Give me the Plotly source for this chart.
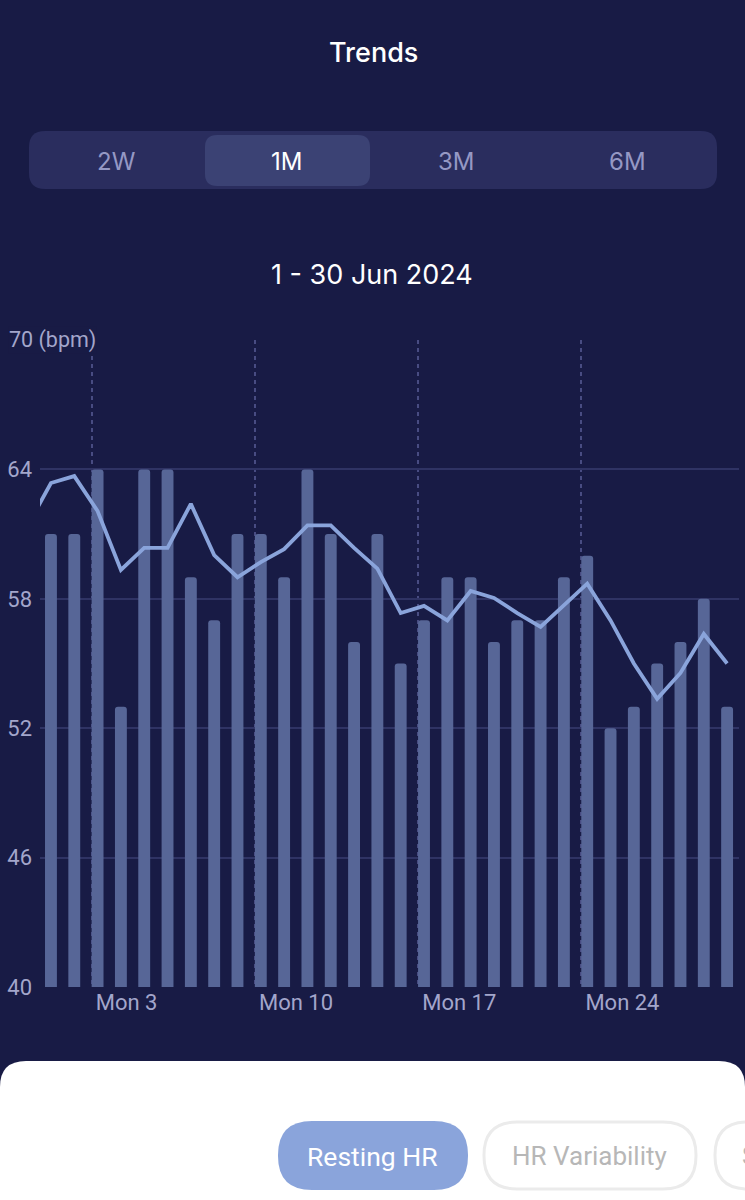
import plotly.graph_objects as go

W = 745
H = 1200

BG = "#181B45"
GRID = "#2F3364"
DASH = "#484C82"
LABEL = "#A3A6CB"
BLUE = "#8AA4DB"
BAR = "#576697"

DAYS = list(range(1, 31))
RESTING_BARS = [61, 61, 64, 53, 64, 64, 59, 57, 61, 61, 59, 64, 61, 56, 61,
                55, 57, 59, 59, 56, 57, 57, 59, 60, 52, 53, 55, 56, 58, 53]

# la linea arranca un dia antes, el eje la recorta
TREND_DAYS = list(range(0, 31))
TREND = [61.4, 63.37, 63.69, 62.07, 59.34, 60.36, 60.36, 62.4, 60.03, 59.0, 59.7,
         60.3, 61.4, 61.4, 60.36, 59.4, 57.34, 57.67, 57.0, 58.36, 58.04,
         57.34, 56.7, 57.7, 58.7, 57.0, 55.0, 53.36, 54.56, 56.37, 55.0]

Y_TICKS = [40, 46, 52, 58, 64, 70]
Y_LABELS = ["40", "46", "52", "58", "64", ""]
MONDAYS = [2.75, 9.75, 16.75, 23.75]
MONDAY_LABELS = ["Mon 3", "Mon 10", "Mon 17", "Mon 24"]

TABS = ["2W", "1M", "3M", "6M"]
TAB_CENTERS = [116, 286, 456, 627]


def px(x):
    return x / W


def py(y):
    return 1 - y / H


def round_rect(x0, y0, x1, y1, r, fill, line=None):
    # rectangulo redondeado en pixeles de la pagina
    path = (
        f"M {px(x0 + r)} {py(y0)} L {px(x1 - r)} {py(y0)} "
        f"Q {px(x1)} {py(y0)} {px(x1)} {py(y0 + r)} "
        f"L {px(x1)} {py(y1 - r)} Q {px(x1)} {py(y1)} {px(x1 - r)} {py(y1)} "
        f"L {px(x0 + r)} {py(y1)} Q {px(x0)} {py(y1)} {px(x0)} {py(y1 - r)} "
        f"L {px(x0)} {py(y0 + r)} Q {px(x0)} {py(y0)} {px(x0 + r)} {py(y0)} Z"
    )
    return dict(
        type="path",
        xref="paper",
        yref="paper",
        path=path,
        fillcolor=fill,
        line=dict(color=line or fill, width=3 if line else 0),
        layer="below",
    )


def label(x, y, text, size, color, family="Inter", anchor="center", weight=400, bg=None):
    return dict(
        x=px(x),
        y=py(y),
        xref="paper",
        yref="paper",
        xanchor=anchor,
        yanchor="middle",
        text=text,
        showarrow=False,
        bgcolor=bg,
        borderpad=0,
        font=dict(family=family, size=size, color=color, weight=weight),
    )


fig = go.Figure()

fig.add_trace(
    go.Bar(
        x=DAYS,
        y=RESTING_BARS,
        width=0.51,
        marker=dict(color=BAR, line_width=0, cornerradius=3),
    )
)

fig.add_trace(
    go.Scatter(
        x=TREND_DAYS,
        y=TREND,
        mode="lines",
        line=dict(color=BLUE, width=3.8),
    )
)

fig.update_xaxes(
    automargin=False,
    domain=[px(40), px(739)],
    range=[0.53, 30.51],
    tickvals=MONDAYS,
    ticktext=MONDAY_LABELS,
    ticklabelposition="outside right",
    ticklabelshift=4,
    ticks="",
    showgrid=True,
    gridcolor=DASH,
    griddash="4px,4px",
    gridwidth=2,
    zeroline=False,
    showline=False,
    tickfont=dict(family="Roboto", size=22, color=LABEL),
)

fig.update_yaxes(
    automargin=False,
    domain=[py(987), py(340)],
    range=[40, 70],
    tickvals=Y_TICKS,
    ticktext=Y_LABELS,
    ticklabelstandoff=7,
    ticks="",
    showgrid=True,
    gridcolor=GRID,
    gridwidth=2,
    zeroline=False,
    showline=False,
    tickfont=dict(family="Roboto", size=22, color=LABEL),
)

shapes = [
    round_rect(29, 131, 717, 189, 16, "#2A2D5E"),
    round_rect(205, 135, 370, 186, 12, "#3B4274"),
]

annotations = [
    label(373, 52, "Trends", 27, "#FFFFFF", weight=500),
    label(372, 275, "1 - 30 Jun 2024", 27, "#FFFFFF"),
    label(8, 340, "70 (bpm)", 21.5, LABEL, family="Roboto", anchor="left", bg=BG),
]

for name, cx in zip(TABS, TAB_CENTERS):
    annotations.append(
        label(cx, 161, name, 24, "#FFFFFF" if name == "1M" else "#9598C4")
    )

# panel blanco inferior con los botones
panel = [
    round_rect(0, 1061, W, 1240, 26, "#FFFFFF"),
    round_rect(278, 1121, 468, 1190, 34, BLUE),
    round_rect(484, 1122, 696, 1189, 33, "#FFFFFF", line="#EBEBEB"),
    round_rect(715, 1122, 900, 1189, 33, "#FFFFFF", line="#EBEBEB"),
]
for shape in panel:
    shape["layer"] = "above"

annotations += [
    label(372, 1156, "Resting HR", 26.5, "#FFFFFF", family="Roboto"),
    label(589, 1156, "HR Variability", 26, "#B7B7B7", family="Roboto"),
    label(741, 1156, "S", 26, "#B7B7B7", family="Roboto", anchor="left"),
]

fig.update_layout(
    width=W,
    height=H,
    autosize=False,
    showlegend=False,
    margin=dict(l=0, r=0, t=0, b=0, pad=0),
    paper_bgcolor=BG,
    plot_bgcolor=BG,
    shapes=shapes + panel,
    annotations=annotations,
)

fig.write_html(
    "out.html",
    config={"displayModeBar": False},
    post_script="document.body.style.margin = '0'; document.body.style.overflow = 'hidden';",
)
